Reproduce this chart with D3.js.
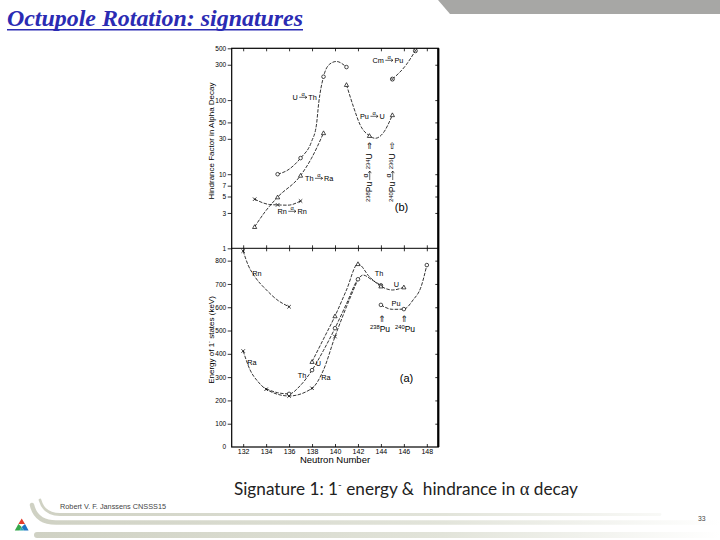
<!DOCTYPE html>
<html><head><meta charset="utf-8">
<script src="https://cdn.jsdelivr.net/npm/d3@7"></script>
<style>html,body{margin:0;padding:0;background:#fff;} svg{display:block;}</style>
</head><body><svg id="c" width="720" height="540"></svg>
<script>
// ---------- axis ticks ----------
const neutronTicks = [132,134,136,138,140,142,144,146,148];
const hfTicks = [1,3,5,7,10,30,50,100,300,500];
const energyTicks = [0,100,200,300,400,500,600,700,800];

// ---------- (b) hindrance factors in alpha decay ----------
const hfUTh_N = [135,137,139,141];
const hfUTh   = [10,16.5,207,279];
const hfUTh_traceN = [135,135.9,137,137.95,138.38,138.58,139,139.54,140.12,141];
const hfUTh_trace  = [10,11.4,16.5,27.4,46,91,207,306,332,279];

const hfThRa_N = [133,135,137,139];
const hfThRa   = [1.95,4.9,9.6,36];
const hfThRa_traceN = [133,133.9,135,137,137.95,139];
const hfThRa_trace  = [1.95,3.1,4.9,9.6,16.4,36];

const hfRnRn_N = [133,135,137];
const hfRnRn   = [4.6,3.85,4.35];
const hfRnRn_traceN = [133,134.3,135,135.9,137];
const hfRnRn_trace  = [4.6,3.9,3.85,3.82,4.35];

const hfPuU_N = [141,143,145];
const hfPuU   = [161,33,63];
const hfPuU_traceN = [141,141.6,142.2,143,143.5,144.2,145];
const hfPuU_trace  = [161,82,46,33,30.5,36,63];

const hfCmPu_N = [145,147];
const hfCmPu   = [192,463];
const hfCmPu_traceN = [145,146.2,147];
const hfCmPu_trace  = [192,299,463];

// ---------- (a) energy of 1- states (keV) ----------
const eRn_N = [132,136];
const eRn   = [841,602];
const eRn_traceN = [132,132.43,133.02,134.03,134.9,136];
const eRn_trace  = [841,781,731,674,634,602];

const eRa_N = [132,134,136,138,140];
const eRa   = [412,248,219,252,474];
const eRa_traceN = [132,132.6,133.3,134,136,138,139,140,141,142];
const eRa_trace  = [412,331,280,248,219,252,331,474,602,720];

const eTh_N = [136,138,140,142,144];
const eTh   = [228,330,510,720,694];
const eTh_traceN = [134,135,136,137,138,139,140,141,142,142.45,143.2,144];
const eTh_trace  = [250,233,228,265,330,415,510,615,720,738,718,694];

const eU_N = [138,140,142,144,146];
const eU   = [366,562,786,690,686];
const eU_traceN = [138,139,140,141,142,143,144,145,146];
const eU_trace  = [366,464,562,674,786,731,690,674,686];

const ePu_N = [144,146,148];
const ePu   = [610,592,781];
const ePu_traceN = [144,145,146,146.8,147.5,148];
const ePu_trace  = [610,591,592,631,688,781];

// ---------- drawing ----------
const F = "'Liberation Sans', Arial, Helvetica, sans-serif";
const svg = d3.select('#c');
const X0 = 231.7, X1 = 438.3, YT = 48.3, YM = 248.3, YB = 447;

const x = d3.scaleLinear().domain([131,149]).range([X0,X1]);
const yTop = d3.scaleLog().domain([1,500]).range([YM,YT]);
const yBot = d3.scaleLinear().domain([0,853]).range([YB,YM]);

// ---- slide decoration ----
svg.append('polygon').attr('points','438,0 720,0 720,14 450,14').attr('fill','#a7a7a5');

svg.append('text').attr('x',7).attr('y',26)
  .attr('font-family',"'Liberation Serif','Times New Roman',serif")
  .attr('font-weight','bold').attr('font-style','italic').attr('font-size',23)
  .attr('fill','#2b2bb3').attr('textLength',296).attr('lengthAdjust','spacingAndGlyphs')
  .text('Octupole Rotation: signatures');
svg.append('line').attr('x1',7).attr('x2',303).attr('y1',29.8).attr('y2',29.8)
  .attr('stroke','#2b2bb3').attr('stroke-width',1.4);

const defs = svg.append('defs');
const gr = defs.append('linearGradient').attr('id','band').attr('gradientUnits','userSpaceOnUse')
  .attr('x1',30).attr('x2',720).attr('y1',0).attr('y2',0);
gr.append('stop').attr('offset','0').attr('stop-color','#cfd1c3');
gr.append('stop').attr('offset','0.6').attr('stop-color','#e2e4da');
gr.append('stop').attr('offset','1').attr('stop-color','#ffffff');
svg.append('path').attr('d','M40,500 Q44,514.5 60,514.5 L660,514.5').attr('fill','none')
  .attr('stroke','url(#band)').attr('stroke-width',2.8).attr('stroke-linecap','round');
svg.append('path').attr('d','M32,505 Q36,522.5 56,522.5 L720,522.5').attr('fill','none')
  .attr('stroke','url(#band)').attr('stroke-width',4.5).attr('stroke-linecap','round');
svg.append('path').attr('d','M37,535 L720,535').attr('fill','none')
  .attr('stroke','url(#band)').attr('stroke-width',6).attr('stroke-linecap','round');

// logo
const lg = svg.append('g');
lg.append('polygon').attr('points','21.7,518.5 25,524 18.4,524').attr('fill','#e23c2c');
lg.append('polygon').attr('points','18.4,524 14.8,530.5 19.5,530.5 21.7,527').attr('fill','#35a84a');
lg.append('polygon').attr('points','25,524 28.6,530.5 23.9,530.5 21.7,527').attr('fill','#1c74c4');
lg.append('polygon').attr('points','19.5,530.5 23.9,530.5 21.7,527').attr('fill','#2aa7b0');

svg.append('text').attr('x',60).attr('y',508.8).attr('font-family',F).attr('font-size',7.4)
  .attr('textLength',106).attr('lengthAdjust','spacingAndGlyphs')
  .attr('fill','#444').text('Robert V. F. Janssens CNSSS15');
svg.append('text').attr('x',698).attr('y',521).attr('font-family',F).attr('font-size',6.8)
  .attr('fill','#444').text('33');

const sig = svg.append('text').attr('x',234).attr('y',494.5)
  .attr('font-family',"Lato,'Open Sans',sans-serif").attr('font-size',17.2).attr('fill','#222')
  .style('white-space','pre');
sig.append('tspan').text('Signature 1: 1');
sig.append('tspan').attr('font-size',10).attr('dy',-6.5).text('-');
sig.append('tspan').attr('dy',6.5).text(' energy &  hindrance in ');
sig.append('tspan').attr('font-family',"'Liberation Serif',serif").attr('font-size',18.5).text('α');
sig.append('tspan').text(' decay');

// ---- chart frame & axes ----
const g = svg.append('g').attr('font-family',F);

function styleAxis(sel, fs){
  sel.select('.domain').remove();
  sel.selectAll('line').attr('stroke','#000').attr('stroke-width',0.8);
  sel.selectAll('text').attr('font-size',fs).attr('font-family',F).attr('fill','#000');
}
g.append('g').attr('transform',`translate(${X0},0)`)
  .call(d3.axisLeft(yTop).tickValues(hfTicks).tickFormat(d3.format('d')).tickSize(4).tickPadding(1.5))
  .call(s=>styleAxis(s,6.5));
g.append('g').attr('transform',`translate(${X0},0)`)
  .call(d3.axisLeft(yBot).tickValues(energyTicks.filter(d=>d>0)).tickFormat(d3.format('d')).tickSize(4).tickPadding(1.5))
  .call(s=>styleAxis(s,6.5));
g.append('text').attr('x',X0-5.5).attr('y',yBot(0)+2.2).attr('text-anchor','end').attr('font-size',6.5).text('0');
g.append('g').attr('transform',`translate(${X1},0)`)
  .call(d3.axisLeft(yTop).tickValues(hfTicks.slice(1,-1)).tickFormat('').tickSize(3)).call(s=>styleAxis(s,6));
g.append('g').attr('transform',`translate(${X1},0)`)
  .call(d3.axisLeft(yBot).tickValues(energyTicks.slice(1)).tickFormat('').tickSize(3)).call(s=>styleAxis(s,6));
g.append('g').attr('transform',`translate(0,${YT})`)
  .call(d3.axisBottom(x).tickValues(neutronTicks).tickFormat('').tickSize(3)).call(s=>styleAxis(s,6));
g.append('g').attr('transform',`translate(0,${YM})`)
  .call(d3.axisBottom(x).tickValues(neutronTicks).tickFormat('').tickSize(3)).call(s=>styleAxis(s,6));
g.append('g').attr('transform',`translate(0,${YM})`)
  .call(d3.axisTop(x).tickValues(neutronTicks).tickFormat('').tickSize(3)).call(s=>styleAxis(s,6));
g.append('g').attr('transform',`translate(0,${YB})`)
  .call(d3.axisTop(x).tickValues(neutronTicks).tickFormat('').tickSize(3)).call(s=>styleAxis(s,6));
g.append('g').attr('transform',`translate(0,${YB})`)
  .call(d3.axisBottom(x).tickValues(neutronTicks).tickFormat(d3.format('d')).tickSize(0).tickPadding(2.5))
  .call(s=>styleAxis(s,7));

g.append('rect').attr('x',X0).attr('y',YT).attr('width',X1-X0).attr('height',YB-YT)
  .attr('fill','none').attr('stroke','#000').attr('stroke-width',1.2);
g.append('line').attr('x1',X1).attr('x2',X1).attr('y1',YT).attr('y2',YB).attr('stroke','#000').attr('stroke-width',2.2);
g.append('line').attr('x1',X0).attr('x2',X1).attr('y1',YM).attr('y2',YM).attr('stroke','#000').attr('stroke-width',1);

g.append('text').attr('x',335).attr('y',463).attr('text-anchor','middle').attr('font-size',9.5).text('Neutron Number');
g.append('text').attr('transform','translate(214,141) rotate(-90)').attr('text-anchor','middle')
  .attr('font-size',8).text('Hindrance Factor in Alpha Decay');
const et = g.append('text').attr('transform','translate(214,340) rotate(-90)').attr('text-anchor','middle').attr('font-size',8);
et.append('tspan').text('Energy of 1');
et.append('tspan').attr('font-size',5.5).attr('dy',-3).text('-');
et.append('tspan').attr('dy',3).text(' states (keV)');

// ---- curves ----
const clipT = defs.append('clipPath').attr('id','clipT');
clipT.append('rect').attr('x',X0).attr('y',YT).attr('width',X1-X0).attr('height',YM-YT);
const clipB = defs.append('clipPath').attr('id','clipB');
clipB.append('rect').attr('x',X0).attr('y',YM).attr('width',X1-X0).attr('height',YB-YM);

const lineTop = d3.line().x(d=>x(d[0])).y(d=>yTop(d[1])).curve(d3.curveMonotoneX);
const lineBot = d3.line().x(d=>x(d[0])).y(d=>yBot(d[1])).curve(d3.curveMonotoneX);
const gT = g.append('g').attr('clip-path','url(#clipT)');
const gB = g.append('g').attr('clip-path','url(#clipB)');

function trace(layer, gen, N, V){
  layer.append('path').attr('d',gen(d3.zip(N,V))).attr('fill','none')
    .attr('stroke','#111').attr('stroke-width',0.85).attr('stroke-dasharray','3.5,1.4');
}
function marks(layer, ys, N, V, type){
  d3.zip(N,V).forEach(([n,v])=>{
    const px = x(n), py = ys(v);
    if(type==='o'){
      layer.append('circle').attr('cx',px).attr('cy',py).attr('r',1.8)
        .attr('fill','#fff').attr('stroke','#000').attr('stroke-width',0.7);
    } else if(type==='tri'){
      const s=2.1;
      layer.append('path').attr('d',`M${px},${py-s}L${px+s},${py+s*0.8}L${px-s},${py+s*0.8}Z`)
        .attr('fill','#fff').attr('stroke','#000').attr('stroke-width',0.7);
    } else if(type==='x'){
      const s=1.7;
      layer.append('path').attr('d',`M${px-s},${py-s}L${px+s},${py+s}M${px-s},${py+s}L${px+s},${py-s}`)
        .attr('stroke','#000').attr('stroke-width',0.8);
    } else if(type==='ox'){
      layer.append('circle').attr('cx',px).attr('cy',py).attr('r',2)
        .attr('fill','#fff').attr('stroke','#000').attr('stroke-width',0.7);
      const s=1.3;
      layer.append('path').attr('d',`M${px-s},${py-s}L${px+s},${py+s}M${px-s},${py+s}L${px+s},${py-s}`)
        .attr('stroke','#000').attr('stroke-width',0.6);
    }
  });
}

trace(gT, lineTop, hfUTh_traceN, hfUTh_trace);
trace(gT, lineTop, hfThRa_traceN, hfThRa_trace);
trace(gT, lineTop, hfRnRn_traceN, hfRnRn_trace);
trace(gT, lineTop, hfPuU_traceN, hfPuU_trace);
trace(gT, lineTop, hfCmPu_traceN, hfCmPu_trace);
marks(gT, yTop, hfUTh_N, hfUTh, 'o');
marks(gT, yTop, hfThRa_N, hfThRa, 'tri');
marks(gT, yTop, hfRnRn_N, hfRnRn, 'x');
marks(gT, yTop, hfPuU_N, hfPuU, 'tri');
marks(gT, yTop, hfCmPu_N, hfCmPu, 'ox');

trace(gB, lineBot, eRn_traceN, eRn_trace);
trace(gB, lineBot, eRa_traceN, eRa_trace);
trace(gB, lineBot, eTh_traceN, eTh_trace);
trace(gB, lineBot, eU_traceN, eU_trace);
trace(gB, lineBot, ePu_traceN, ePu_trace);
marks(gB, yBot, eRn_N, eRn, 'x');
marks(gB, yBot, eRa_N, eRa, 'x');
marks(gB, yBot, eTh_N, eTh, 'o');
marks(gB, yBot, eU_N, eU, 'tri');
marks(gB, yBot, ePu_N, ePu, 'o');

// ---- text labels ----
function rich(t, parts){
  let up = false;
  parts.forEach(p=>{
    const sp = t.append('tspan').text(p.s);
    if(p.sup){ sp.attr('font-size','0.68em'); if(!up) sp.attr('dy','-0.45em'); up = true; }
    else if(up){ sp.attr('dy','0.31em'); up = false; }
  });
}
// "parent α→ daughter": α written above a drawn arrow
function decay(layer, px, py, parent, daughter, fs){
  const t1 = layer.append('text').attr('x',px).attr('y',py).attr('font-size',fs);
  rich(t1, parent);
  const w1 = t1.node().getComputedTextLength();
  const aw = fs*1.05, ax0 = px + w1 + fs*0.2, ay = py - fs*0.3, h = fs*0.18;
  layer.append('path')
    .attr('d',`M${ax0},${ay}H${ax0+aw}M${ax0+aw-h*1.4},${ay-h}L${ax0+aw},${ay}L${ax0+aw-h*1.4},${ay+h}`)
    .attr('fill','none').attr('stroke','#000').attr('stroke-width',0.6);
  layer.append('text').attr('x',ax0+aw/2).attr('y',ay-fs*0.15).attr('text-anchor','middle')
    .attr('font-size',fs*0.78).text('α');
  const t2 = layer.append('text').attr('x',ax0+aw+fs*0.2).attr('y',py).attr('font-size',fs);
  rich(t2, daughter);
}
const FS = 7.3;
decay(g, 292.5, 99.5, [{s:'U'}], [{s:'Th'}], FS);
decay(g, 305, 180.5, [{s:'Th'}], [{s:'Ra'}], FS);
decay(g, 277.5, 213.5, [{s:'Rn'}], [{s:'Rn'}], FS);
decay(g, 360, 118.5, [{s:'Pu'}], [{s:'U'}], FS);
decay(g, 372.5, 62.5, [{s:'Cm'}], [{s:'Pu'}], FS);

const r1 = g.append('g').attr('transform','translate(372.3,202) rotate(-90)');
decay(r1, 0, 0, [{s:'238',sup:true},{s:'Pu'}], [{s:'234',sup:true},{s:'U'}], 8.6);
const r2 = g.append('g').attr('transform','translate(395.3,202) rotate(-90)');
decay(r2, 0, 0, [{s:'240',sup:true},{s:'Pu'}], [{s:'236',sup:true},{s:'U'}], 8.6);
g.append('text').attr('x',369.3).attr('y',149).attr('text-anchor','middle').attr('font-size',9)
  .attr('font-family',"'DejaVu Sans',sans-serif").text('⇑');
g.append('text').attr('x',392.3).attr('y',149).attr('text-anchor','middle').attr('font-size',9)
  .attr('font-family',"'DejaVu Sans',sans-serif").text('⇧');
g.append('text').attr('x',401.5).attr('y',211).attr('text-anchor','middle').attr('font-size',11).text('(b)');

const lab = (px,py,s,fs)=>g.append('text').attr('x',px).attr('y',py).attr('text-anchor','middle').attr('font-size',fs||7.3).text(s);
lab(257,276,'Rn');
lab(252,364.5,'Ra');
lab(318.5,366,'U');
lab(302,378,'Th');
lab(326,379.5,'Ra');
lab(379,275.5,'Th');
lab(396.5,287,'U');
lab(396,306,'Pu');
lab(406.5,381.5,'(a)',11);
g.append('text').attr('x',381.7).attr('y',322).attr('text-anchor','middle').attr('font-size',9)
  .attr('font-family',"'DejaVu Sans',sans-serif").text('⇑');
g.append('text').attr('x',404).attr('y',322).attr('text-anchor','middle').attr('font-size',9)
  .attr('font-family',"'DejaVu Sans',sans-serif").text('⇑');
const p1 = g.append('text').attr('x',370).attr('y',332).attr('font-size',8.5);
rich(p1, [{s:'238',sup:true},{s:'Pu'}]);
const p2 = g.append('text').attr('x',395).attr('y',332).attr('font-size',8.5);
rich(p2, [{s:'240',sup:true},{s:'Pu'}]);
</script></body></html>
